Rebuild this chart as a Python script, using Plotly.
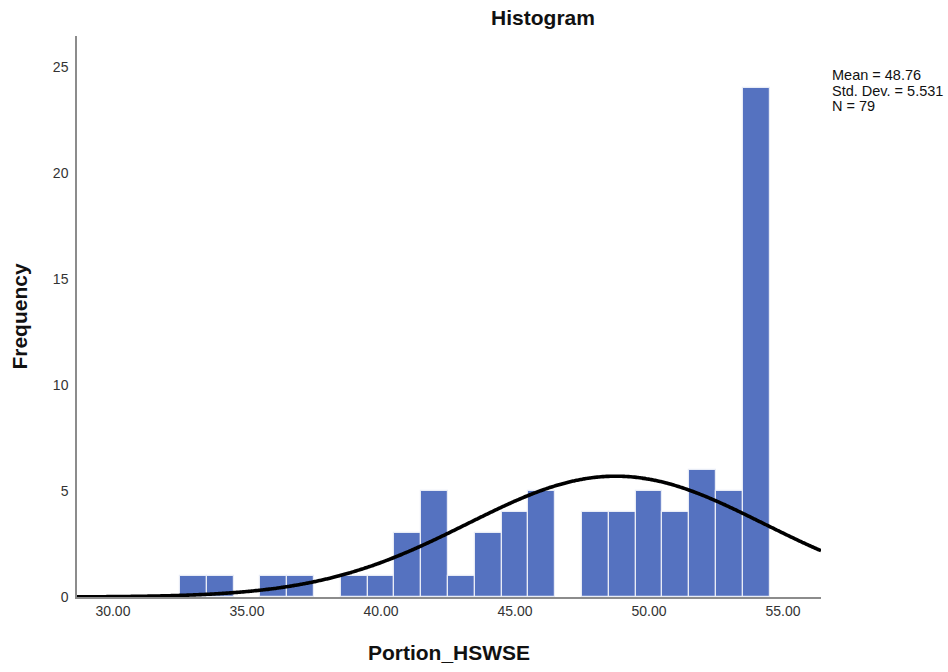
import numpy as np
import plotly.graph_objects as go

# Histogram bins (width 1, centred on integer values) and their counts
bin_centers = [33, 34, 36, 37, 39, 40, 41, 42, 43, 44, 45, 46,
               48, 49, 50, 51, 52, 53, 54]
frequencies = [1, 1, 1, 1, 1, 1, 3, 5, 1, 3, 4, 5,
               4, 4, 5, 4, 6, 5, 24]

# Summary statistics shown beside the chart
mean_value = 48.76
std_dev = 5.531
n_obs = 79
bin_width = 1.0

x_ticks = [30, 35, 40, 45, 50, 55]
x_tick_labels = ["30.00", "35.00", "40.00", "45.00", "50.00", "55.00"]
y_ticks = [0, 5, 10, 15, 20, 25]

x_range = [28.66, 56.42]
y_range = [0, 26.46]

FONT = "Liberation Sans, Arial, sans-serif"
BAR_BLUE = "#5572c0"

# Normal curve scaled to counts
curve_x = np.linspace(x_range[0], x_range[1], 400)
curve_y = (n_obs * bin_width / (std_dev * np.sqrt(2 * np.pi))
           * np.exp(-0.5 * ((curve_x - mean_value) / std_dev) ** 2))

fig = go.Figure()
fig.add_trace(go.Bar(
    x=bin_centers, y=frequencies, width=bin_width,
    marker=dict(color=BAR_BLUE, line=dict(color="#e8ecf6", width=1.2)),
    hoverinfo="x+y", showlegend=False,
))
fig.add_trace(go.Scatter(
    x=curve_x, y=curve_y, mode="lines",
    line=dict(color="black", width=3.6, shape="spline"),
    hoverinfo="skip", showlegend=False, cliponaxis=False,
))

stats_lines = [f"Mean = {mean_value}", f"Std. Dev. = {std_dev}", f"N = {n_obs}"]
plot_top, plot_h = 36, 561
for i, txt in enumerate(stats_lines):
    ypix = 75 + 15.5 * i
    fig.add_annotation(
        text=txt, xref="paper", yref="paper",
        x=(830 - 77) / 744, y=1 - (ypix - plot_top) / plot_h,
        xanchor="left", yanchor="middle", showarrow=False,
        font=dict(family=FONT, size=14.5, color="#111"),
    )

fig.update_layout(
    width=948, height=672,
    margin=dict(l=77, r=127, t=36, b=75),
    paper_bgcolor="white", plot_bgcolor="white",
    bargap=0,
    title=dict(
        text="<b>Histogram</b>", x=543 / 948, y=1 - 18 / 672,
        xref="container", yref="container",
        xanchor="center", yanchor="middle",
        font=dict(family=FONT, size=21, color="#111"),
    ),
    font=dict(family=FONT, color="#222"),
)
fig.update_xaxes(
    range=x_range, tickvals=x_ticks, ticktext=x_tick_labels,
    showgrid=False, zeroline=False, showline=True,
    linecolor="#8c8c8c", linewidth=1.5, ticks="",
    tickfont=dict(family=FONT, size=14, color="#333"),
    title=dict(text="<b>Portion_HSWSE</b>", standoff=28,
               font=dict(family=FONT, size=21, color="#111")),
)
fig.update_yaxes(
    range=y_range, tickvals=y_ticks,
    showgrid=False, zeroline=False, showline=True,
    linecolor="#8c8c8c", linewidth=1.5, ticks="",
    ticklabelstandoff=4,
    tickfont=dict(family=FONT, size=14, color="#333"),
    title=dict(text="<b>Frequency</b>", standoff=20,
               font=dict(family=FONT, size=21, color="#111")),
)

fig.write_html("out.html")
